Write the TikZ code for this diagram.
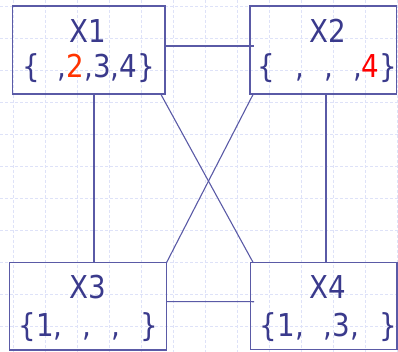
\documentclass[tikz,border=0pt]{standalone}
\usepackage{fontspec}
\newfontfamily\tfont{DejaVu Sans}[FakeStretch=0.88]
\usetikzlibrary{calc}
\definecolor{txt}{RGB}{58,58,140}
\definecolor{edge}{RGB}{90,90,166}
\definecolor{gridc}{RGB}{222,226,248}
\definecolor{redA}{RGB}{255,51,0}
\definecolor{redB}{RGB}{255,0,0}
\newcommand{\blk}{\hspace{20pt}}
\tikzset{
  box/.style={draw=edge, line width=1.2pt, inner sep=0pt, outer sep=0pt, rectangle},
  conn/.style={draw=edge, line width=1.1pt},
  lbl/.style={anchor=base, inner sep=0pt, text=txt, font=\tfont\fontsize{31.5}{35}\selectfont},
  gridline/.style={draw=gridc, line width=0.7pt, dash pattern=on 3pt off 2pt}
}
\begin{document}
\begin{tikzpicture}[x=1pt,y=-1pt]
\useasboundingbox (0,0) rectangle (398,352);
% background grid
\foreach \gx in {13.3,45.3,...,398} {\draw[gridline] (\gx,0) -- (\gx,352);}
\foreach \gy in {6,38,...,352} {\draw[gridline] (0,\gy) -- (398,\gy);}
% boxes
\node[box, minimum width=152.5pt, minimum height=88pt] (X1) at (88.75,50) {};
\node[box, minimum width=146.7pt, minimum height=88pt] (X2) at (323.35,50) {};
\node[box, minimum width=157.4pt, minimum height=87.7pt] (X3) at (88,306.15) {};
\node[box, minimum width=146.3pt, minimum height=87.2pt] (X4) at (323.85,305.9) {};
% labels
\node[lbl] (t1a) at (87.5,43) {X1};
\node[lbl] (t1b) at (88.7,78) {\{\phantom{2},{\color{redA}2},3,4\}};
\node[lbl] (t2a) at (328,43) {X2};
\node[lbl] (t2b) at (327.5,78) {\{\blk,\blk,\blk,{\color{redB}4}\}};
\node[lbl] (t3a) at (87.7,298.3) {X3};
\node[lbl] (t3b) at (88.3,336) {\{1,\blk,\blk,\blk\}};
\node[lbl] (t4a) at (327.5,298.3) {X4};
\node[lbl] (t4b) at (328.3,336) {\{1,\blk,3,\blk\}};
% connectors
\draw[conn] ($(X1.east)+(0,-4)$) -- ($(X2.west)+(4,-4)$);
\draw[conn] ($(X3.east)+(0,-4.5)$) -- ($(X4.west)+(3.5,-4.2)$);
\draw[conn] ($(X1.south)+(5.25,0)$) -- ($(X3.north)+(6,0)$);
\draw[conn] ($(X2.south)+(2.65,0)$) -- ($(X4.north)+(2.15,0)$);
\draw[conn] ($(X1.south east)+(-4.3,0)$) -- ($(X4.north west)+(2.3,0)$);
\draw[conn] ($(X2.south west)+(3.3,0)$) -- (X3.north east);
\end{tikzpicture}
\end{document}
